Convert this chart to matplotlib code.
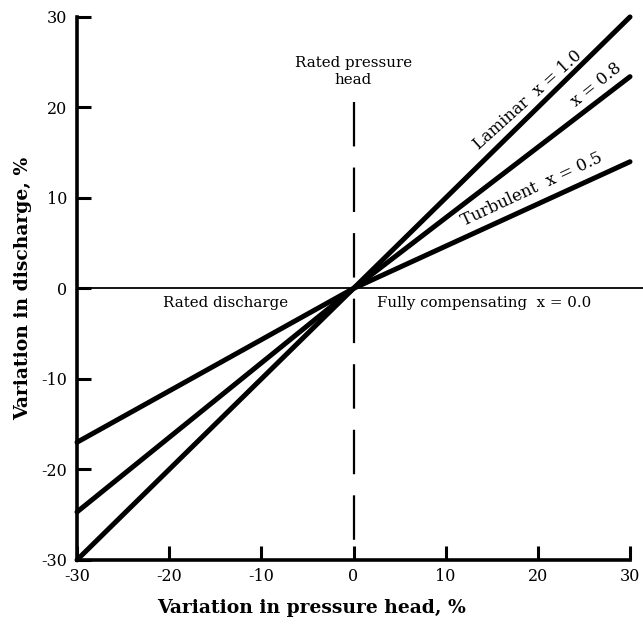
import matplotlib.pyplot as plt

# data
head = [-30, 0, 30]
q_laminar = [-30, 0, 30]      # x = 1.0
q_08 = [-24.7, 0, 23.4]       # x = 0.8
q_turbulent = [-17, 0, 14]    # x = 0.5
ticks = [-30, -20, -10, 0, 10, 20, 30]

plt.rcParams['font.family'] = ['DejaVu Serif']

fig = plt.figure(figsize=(6.43, 6.27), dpi=100)
ax = fig.add_axes([0.1198, 0.107, 0.860, 0.866])

for q in (q_laminar, q_08, q_turbulent):
    ax.plot(head, q, color='black', lw=3.6, solid_capstyle='round', clip_on=False, zorder=3)

# reference lines
ax.axhline(0, xmin=0, xmax=1.03, color='black', lw=1.3, clip_on=False)
ax.plot([0, 0], [20.6, -30], color='black', lw=1.6, dashes=(20, 9.5), zorder=2)

ax.set_xlim(-30, 30)
ax.set_ylim(-30, 30)
ax.set_xticks(ticks)
ax.set_yticks(ticks)
ax.set_xticklabels([str(t) for t in ticks])
ax.set_yticklabels([str(t) for t in ticks])
ax.tick_params(direction='in', length=10, width=2.2, labelsize=11.5, pad=6)
ax.tick_params(axis='y', pad=7)
for s in ('top', 'right'):
    ax.spines[s].set_visible(False)
for s in ('left', 'bottom'):
    ax.spines[s].set_linewidth(2.6)

ax.set_xlabel('Variation in pressure head, %', fontsize=13.5, fontweight='bold')
ax.set_ylabel('Variation in discharge, %', fontsize=13.5, fontweight='bold')
ax.xaxis.set_label_coords(0.425, -0.072)
ax.yaxis.set_label_coords(-0.082, 0.5)

ax.text(0, 24.0, 'Rated pressure\nhead', ha='center', va='center', fontsize=10.8, linespacing=1.3)
ax.text(-13.9, -1.6, 'Rated discharge', ha='center', va='center', fontsize=10.8)
ax.text(2.5, -1.6, 'Fully compensating  x = 0.0', ha='left', va='center', fontsize=10.8)
ax.text(18.9, 20.8, 'Laminar  x = 1.0', ha='center', va='center', fontsize=11.8, rotation=42)
ax.text(26.4, 22.5, 'x = 0.8', ha='center', va='center', fontsize=11.8, rotation=39)
ax.text(19.4, 10.9, 'Turbulent  x = 0.5', ha='center', va='center', fontsize=12, rotation=25)

plt.savefig('out.png', dpi=100)
